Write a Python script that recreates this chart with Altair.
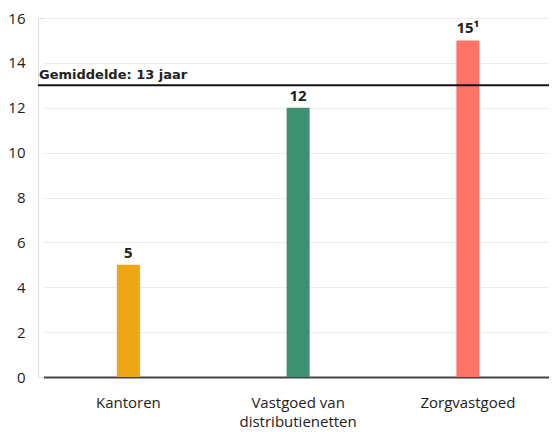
import altair as alt
import pandas as pd

categories = ["Kantoren", "Vastgoed van distributienetten", "Zorgvastgoed"]
values = [5, 12, 15]
value_labels = ["5", "12", "15¹"]
colors = ["#F0A514", "#3E9170", "#FF7468"]
mean_value = 13
mean_label = "Gemiddelde: 13 jaar"
y_ticks = [0, 2, 4, 6, 8, 10, 12, 14, 16]

df = pd.DataFrame({"cat": categories, "val": values, "lab": value_labels, "col": colors})
FONT = "Open Sans"

x_enc = alt.X("cat:N", sort=categories, title=None,
              scale=alt.Scale(range=[5.5, 514.75], paddingInner=0, paddingOuter=0),
              axis=alt.Axis(labelAngle=0, ticks=False, domainColor="#444444", domainWidth=2,
                            labelFontSize=15, labelColor="#222222", labelPadding=18,
                            labelFont=FONT, labelLineHeight=19,
                            labelExpr="datum.label == 'Vastgoed van distributienetten' ? ['Vastgoed van', 'distributienetten'] : datum.label"))
y_scale = alt.Scale(domain=[0, 16], nice=False)

bars = alt.Chart(df).mark_bar(size=23).encode(
    x=x_enc,
    y=alt.Y("val:Q", scale=y_scale, title=None,
            axis=alt.Axis(values=y_ticks, domain=False, ticks=False, gridColor="#ececec",
                          labelFontSize=15, labelColor="#222222", labelPadding=13, labelFont=FONT)),
    color=alt.Color("col:N", scale=None),
)

texts = alt.Chart(df).mark_text(dy=-4, baseline="bottom", fontSize=15, fontWeight="bold",
                                font=FONT, color="#222222").encode(
    x=alt.X("cat:N", sort=categories), y=alt.Y("val:Q", scale=y_scale), text="lab:N")

mean_df = pd.DataFrame({"y": [mean_value], "t": [mean_label]})
rule = alt.Chart(mean_df).mark_rule(color="#111111", strokeWidth=2).encode(y=alt.Y("y:Q", scale=y_scale))
mean_text = alt.Chart(mean_df).mark_text(align="left", baseline="bottom", dy=-3, fontSize=13,
                                         fontWeight="bold", font="DejaVu Sans", color="#222222").encode(
    x=alt.value(1), y=alt.Y("y:Q", scale=y_scale), text="t:N")

chart = alt.layer(bars, texts, rule, mean_text).properties(
    width=511, height=359, autosize=alt.AutoSizeParams(type="none"),
    padding={"left": 30, "top": 10, "right": 0, "bottom": 55},
).configure_view(stroke=None).configure(background="white")

chart.save("out.html", embed_options={"renderer": "svg", "actions": False})
